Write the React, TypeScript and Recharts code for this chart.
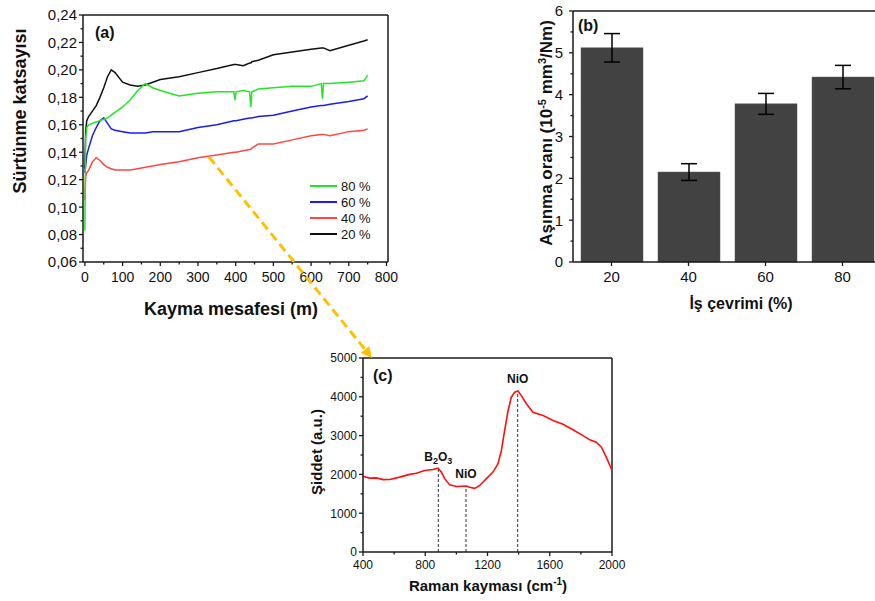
import React from 'react';
import { LineChart, Line, XAxis, YAxis, ReferenceLine, BarChart, Bar, ErrorBar, Legend } from 'recharts';

const FONT = '"Liberation Sans", Arial, Helvetica, sans-serif';
const AXIS = '#1a1a1a';

// (a) friction coefficient vs sliding distance
const distance = [0, 2, 5, 10, 20, 30, 40, 50, 60, 70, 80, 100, 120, 140, 160, 180, 200, 250, 300, 350, 395, 398, 401, 420, 437, 440, 443, 460, 500, 550, 600, 627, 630, 633, 650, 700, 740, 750];
const cof20 = [0.128, 0.155, 0.163, 0.166, 0.170, 0.174, 0.180, 0.187, 0.195, 0.200, 0.198, 0.191, 0.189, 0.188, 0.189, 0.191, 0.193, 0.195, 0.198, 0.201, 0.204, 0.204, 0.204, 0.203, 0.205, 0.205, 0.206, 0.207, 0.211, 0.213, 0.215, 0.216, 0.216, 0.216, 0.214, 0.218, 0.221, 0.222];
const cof40 = [0.105, 0.122, 0.125, 0.127, 0.133, 0.136, 0.134, 0.131, 0.129, 0.128, 0.127, 0.127, 0.127, 0.128, 0.129, 0.130, 0.131, 0.133, 0.136, 0.138, 0.140, 0.140, 0.140, 0.141, 0.142, 0.142, 0.143, 0.146, 0.146, 0.149, 0.152, 0.153, 0.153, 0.153, 0.152, 0.155, 0.156, 0.157];
const cof60 = [0.125, 0.130, 0.138, 0.143, 0.152, 0.158, 0.163, 0.165, 0.161, 0.157, 0.156, 0.155, 0.154, 0.154, 0.154, 0.155, 0.155, 0.155, 0.158, 0.160, 0.163, 0.163, 0.163, 0.164, 0.165, 0.165, 0.165, 0.166, 0.167, 0.170, 0.173, 0.174, 0.174, 0.174, 0.175, 0.177, 0.179, 0.181];
const cof80 = [0.083, 0.150, 0.158, 0.160, 0.161, 0.162, 0.163, 0.164, 0.165, 0.167, 0.169, 0.173, 0.178, 0.185, 0.190, 0.187, 0.185, 0.181, 0.183, 0.184, 0.184, 0.178, 0.184, 0.185, 0.184, 0.173, 0.184, 0.186, 0.187, 0.188, 0.188, 0.190, 0.179, 0.190, 0.190, 0.191, 0.192, 0.196];
const distMajor = [0, 100, 200, 300, 400, 500, 600, 700, 800];
const distMinor = [50, 150, 250, 350, 450, 550, 650, 750];
const cofMajor = [0.06, 0.08, 0.10, 0.12, 0.14, 0.16, 0.18, 0.20, 0.22, 0.24];
const cofMinor = [0.07, 0.09, 0.11, 0.13, 0.15, 0.17, 0.19, 0.21, 0.23];

// (b) wear rate vs duty cycle
const cycles = ['20', '40', '60', '80'];
const wearRate = [5.12, 2.15, 3.78, 4.42];
const wearErr = [0.34, 0.2, 0.25, 0.28];
const wearMajor = [0, 1, 2, 3, 4, 5, 6];
const wearMinor = [0.5, 1.5, 2.5, 3.5, 4.5, 5.5];

// (c) Raman spectrum
const ramanShift = [400, 443, 486, 529, 571, 636, 700, 743, 796, 850, 882, 903, 925, 957, 1000, 1064, 1085, 1118, 1150, 1193, 1235, 1267, 1289, 1310, 1332, 1353, 1375, 1396, 1417, 1450, 1492, 1557, 1621, 1685, 1749, 1814, 1857, 1899, 1932, 1964, 2000];
const ramanIntensity = [1955, 1905, 1910, 1865, 1870, 1930, 2000, 2030, 2100, 2125, 2160, 2060, 1890, 1730, 1690, 1700, 1670, 1640, 1715, 1890, 2060, 2270, 2610, 3130, 3640, 3990, 4120, 4150, 4030, 3820, 3600, 3520, 3390, 3290, 3150, 3000, 2890, 2830, 2700, 2440, 2100];
const peakShift = [884, 1062, 1394];
const peakTop = [2150, 1695, 4150];
const peakNames = ['B2O3', 'NiO', 'NiO'];
const shiftMajor = [400, 800, 1200, 1600, 2000];
const shiftMinor = [600, 1000, 1400, 1800];
const intMajor = [0, 1000, 2000, 3000, 4000, 5000];
const intMinor = [500, 1500, 2500, 3500, 4500];

const rowsA = distance.map((d, i) => ({ d, c20: cof20[i], c40: cof40[i], c60: cof60[i], c80: cof80[i] }));
const rowsB = cycles.map((c, i) => ({ cycle: c, rate: wearRate[i], err: wearErr[i] }));
const rowsC = ramanShift.map((s, i) => ({ s, v: ramanIntensity[i] }));

const seriesA = [
  { key: 'c20', name: '20 %', color: '#111111' },
  { key: 'c40', name: '40 %', color: '#ff4646' },
  { key: 'c60', name: '60 %', color: '#1a1aff' },
  { key: 'c80', name: '80 %', color: '#22e622' },
];

const byValue = (a: number[], b: number[]) => [...a, ...b].sort((x, y) => x - y);
const comma = (v: number) => v.toFixed(2).replace('.', ',');

type TickOpts = { majors: any[]; fmt?: (v: any) => string; fontSize: number; gap: number };

function leftTick(o: TickOpts) {
  return (p: any) => {
    const v = p.payload.value;
    const major = o.majors.includes(v);
    const len = major ? 4 : 2.5;
    return (
      <g>
        <line x1={p.x - len} x2={p.x} y1={p.y} y2={p.y} stroke={AXIS} strokeWidth={1.3} />
        {major && (
          <text x={p.x - o.gap} y={p.y} dy="0.36em" textAnchor="end" fontSize={o.fontSize} fontFamily={FONT} fill="#111">
            {o.fmt ? o.fmt(v) : v}
          </text>
        )}
      </g>
    );
  };
}

function bottomTick(o: TickOpts) {
  return (p: any) => {
    const v = p.payload.value;
    const major = o.majors.includes(v);
    const len = major ? 4 : 2.5;
    return (
      <g>
        <line x1={p.x} x2={p.x} y1={p.y} y2={p.y + len} stroke={AXIS} strokeWidth={1.3} />
        {major && (
          <text x={p.x} y={p.y + o.gap} dy="0.71em" textAnchor="middle" fontSize={o.fontSize} fontFamily={FONT} fill="#111">
            {o.fmt ? o.fmt(v) : v}
          </text>
        )}
      </g>
    );
  };
}

const CofLegend = (props: any) => {
  const items = [...(props.payload || [])].reverse();
  return (
    <div style={{ fontFamily: FONT, fontSize: 13, color: '#111' }}>
      {items.map((it: any) => (
        <div key={it.value} style={{ display: 'flex', alignItems: 'center', height: 16 }}>
          <span style={{ display: 'inline-block', width: 27, borderTop: `2px solid ${it.color}`, marginRight: 4 }} />
          <span>{it.value}</span>
        </div>
      ))}
    </div>
  );
};

const PeakLabel = (props: any) => {
  const vb = props.viewBox || {};
  const x = (vb.x ?? 0) + (vb.width ?? 0) / 2;
  const y = (vb.y ?? 0) - 8;
  const name: string = props.name;
  if (name === 'B2O3') {
    return (
      <text x={x} y={y} textAnchor="middle" fontSize={12} fontWeight="bold" fontFamily={FONT} fill="#111">
        B<tspan dy={3} fontSize={9}>2</tspan>
        <tspan dy={-3}>O</tspan>
        <tspan dy={3} fontSize={9}>3</tspan>
      </text>
    );
  }
  return (
    <text x={x} y={y} textAnchor="middle" fontSize={12} fontWeight="bold" fontFamily={FONT} fill="#111">
      {name}
    </text>
  );
};

const axisLine = { stroke: AXIS, strokeWidth: 1.5 };

function arrowHead(x1: number, y1: number, x2: number, y2: number, len: number, half: number) {
  const dx = x2 - x1, dy = y2 - y1;
  const L = Math.hypot(dx, dy);
  const ux = dx / L, uy = dy / L;
  const bx = x2 - ux * len, by = y2 - uy * len;
  return { bx, by, pts: `${x2},${y2} ${bx - uy * half},${by + ux * half} ${bx + uy * half},${by - ux * half}` };
}

export default function App() {
  const head = arrowHead(209, 157, 372, 358, 11, 5.5);
  return (
    <div style={{ position: 'fixed', left: 0, top: 0, width: 875, height: 601, overflow: 'hidden', background: '#fff' }}>
      {/* (a) */}
      <div style={{ position: 'absolute', left: 0, top: 0 }}>
        <LineChart width={400} height={300} data={rowsA} margin={{ top: 15, right: 12, bottom: 0, left: 0 }}>
          <XAxis dataKey="d" type="number" domain={[-5, 804]} ticks={byValue(distMajor, distMinor)} interval={0}
            height={38} tickSize={0} tickMargin={0} tickLine={false} axisLine={axisLine}
            tick={bottomTick({ majors: distMajor, fontSize: 14, gap: 10 })} />
          <YAxis type="number" domain={[0.06, 0.24]} ticks={byValue(cofMajor, cofMinor)} interval={0}
            width={83} tickSize={0} tickMargin={0} tickLine={false} axisLine={axisLine}
            tick={leftTick({ majors: cofMajor, fmt: comma, fontSize: 15, gap: 6 })} />
          <ReferenceLine y={0.24} stroke={AXIS} strokeWidth={1.5} />
          <ReferenceLine x={804} stroke={AXIS} strokeWidth={1.5} />
          {seriesA.map(s => (
            <Line key={s.key} dataKey={s.key} name={s.name} stroke={s.color} strokeWidth={1.5} dot={false}
              type="linear" isAnimationActive={false} legendType="line" />
          ))}
          <Legend layout="vertical" align="center" verticalAlign="middle" content={CofLegend}
            wrapperStyle={{ left: 310, top: 178, width: 90 }} />
        </LineChart>
      </div>

      {/* (b) */}
      <div style={{ position: 'absolute', left: 500, top: 0 }}>
        <BarChart width={385} height={300} data={rowsB} margin={{ top: 11, right: 4, bottom: 0, left: 0 }}>
          <XAxis dataKey="cycle" height={38} tickSize={0} tickMargin={0} tickLine={false} axisLine={axisLine}
            interval={0} tick={bottomTick({ majors: cycles, fontSize: 15, gap: 9 })} />
          <YAxis type="number" domain={[0, 6]} ticks={byValue(wearMajor, wearMinor)} interval={0}
            width={73} tickSize={0} tickMargin={0} tickLine={false} axisLine={axisLine}
            tick={leftTick({ majors: wearMajor, fontSize: 15, gap: 10 })} />
          <ReferenceLine y={6} stroke={AXIS} strokeWidth={1.5} />
          <Bar dataKey="rate" fill="#424242" stroke="#555" strokeWidth={0.5} barSize={62} isAnimationActive={false}>
            <ErrorBar dataKey="err" width={8} stroke="#000" strokeWidth={1.5} isAnimationActive={false} />
          </Bar>
        </BarChart>
      </div>

      {/* (c) */}
      <div style={{ position: 'absolute', left: 300, top: 340 }}>
        <LineChart width={330} height={261} data={rowsC} margin={{ top: 18, right: 18, bottom: 0, left: 0 }}>
          <XAxis dataKey="s" type="number" domain={[400, 2000]} ticks={byValue(shiftMajor, shiftMinor)} interval={0}
            height={49} tickSize={0} tickMargin={0} tickLine={false} axisLine={axisLine}
            tick={bottomTick({ majors: shiftMajor, fontSize: 12, gap: 8 })} />
          <YAxis type="number" domain={[0, 5000]} ticks={byValue(intMajor, intMinor)} interval={0}
            width={63} tickSize={0} tickMargin={0} tickLine={false} axisLine={axisLine}
            tick={leftTick({ majors: intMajor, fontSize: 12, gap: 6 })} />
          <ReferenceLine y={5000} stroke={AXIS} strokeWidth={1.5} />
          <ReferenceLine x={2000} stroke={AXIS} strokeWidth={1.5} />
          {peakShift.map((p, i) => (
            <ReferenceLine key={p} segment={[{ x: p, y: 0 }, { x: p, y: peakTop[i] }]} stroke="#333"
              strokeWidth={1} strokeDasharray="3 2" label={<PeakLabel name={peakNames[i]} />} />
          ))}
          <Line dataKey="v" stroke="#ff1010" strokeWidth={1.6} dot={false} type="linear" isAnimationActive={false} />
        </LineChart>
      </div>

      {/* annotations and axis titles */}
      <svg width={875} height={601} style={{ position: 'absolute', left: 0, top: 0, pointerEvents: 'none' }} fontFamily={FONT}>
        <line x1={209} y1={157} x2={head.bx} y2={head.by} stroke="#ffc000" strokeWidth={3} strokeDasharray="9 5" />
        <polygon points={head.pts} fill="#ffc000" />

        <text x={95} y={38} fontSize={16} fontWeight="bold" fill="#111">(a)</text>
        <text x={578} y={31} fontSize={16} fontWeight="bold" fill="#111">(b)</text>
        <text x={373} y={381} fontSize={16} fontWeight="bold" fill="#111">(c)</text>

        <text x={26} y={111} transform="rotate(-90 26 111)" textAnchor="middle" fontSize={18} fontWeight="bold" fill="#111">
          Sürtünme katsayısı
        </text>
        <text x={231} y={315} textAnchor="middle" fontSize={18} fontWeight="bold" fill="#111">Kayma mesafesi (m)</text>

        <text x={552} y={133} transform="rotate(-90 552 133)" textAnchor="middle" fontSize={17} fontWeight="bold" fill="#111">
          Aşınma oranı (10<tspan dy={-6} fontSize={11}>-5</tspan>
          <tspan dy={6}> mm</tspan>
          <tspan dy={-6} fontSize={11}>3</tspan>
          <tspan dy={6}>/Nm)</tspan>
        </text>
        <text x={741} y={309} textAnchor="middle" fontSize={16} fontWeight="bold" fill="#111">İş çevrimi (%)</text>

        <text x={322} y={452} transform="rotate(-90 322 452)" textAnchor="middle" fontSize={15} fontWeight="bold" fill="#111">
          Şiddet (a.u.)
        </text>
        <text x={488} y={591} textAnchor="middle" fontSize={15} fontWeight="bold" fill="#111">
          Raman kayması (cm<tspan dy={-6} fontSize={10}>-1</tspan>
          <tspan dy={6}>)</tspan>
        </text>
      </svg>
    </div>
  );
}
